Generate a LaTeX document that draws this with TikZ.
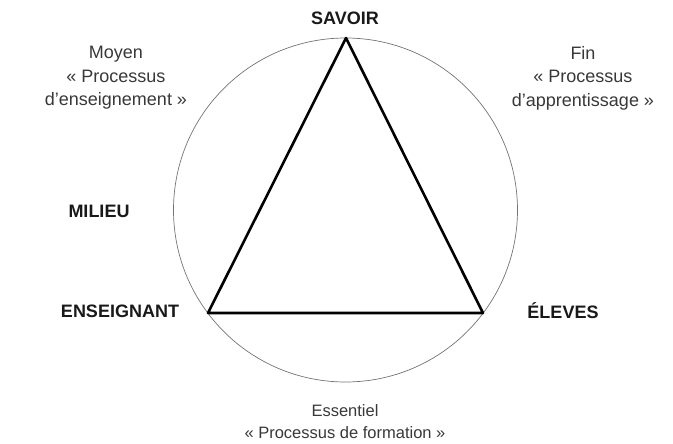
\documentclass[tikz,border=0pt]{standalone}
\usepackage{fontspec}
\setmainfont{Liberation Sans}
\begin{document}
\begin{tikzpicture}[x=1pt,y=-1pt,
  lbl/.style={font=\fontsize{18}{18}\selectfont\bfseries, inner sep=0pt, text=black!90},
  txt/.style={font=\fontsize{18}{23.5}\selectfont, align=center, inner sep=0pt, text=black!78},
  tri/.style={line width=2.6pt, line join=round},
  circ/.style={draw=black!55, line width=0.7pt}]
\useasboundingbox (0,0) rectangle (673,444);
\coordinate (S) at (346,38);
\coordinate (E) at (208,313);
\coordinate (L) at (483,313);
\coordinate (O) at (345.5,210);
\draw[circ] (O) circle (172);
\draw[tri] (S) -- (E) -- (L) -- cycle;
\node[lbl] (savoir) at (345,18) {SAVOIR};
\node[lbl] (milieu) at (99,211) {MILIEU};
\node[lbl] (ens) at (120,311) {ENSEIGNANT};
\node[lbl] (elev) at (563,311) {ÉLEVES};
\node[txt] (moyen) at (116,78) {Moyen\\« Processus\\d'enseignement »};
\node[txt] (fin) at (583,78) {Fin\\« Processus\\d'apprentissage »};
\node[txt, font=\fontsize{16.5}{22}\selectfont] (ess) at (345,422) {Essentiel\\« Processus de formation »};
\end{tikzpicture}
\end{document}
